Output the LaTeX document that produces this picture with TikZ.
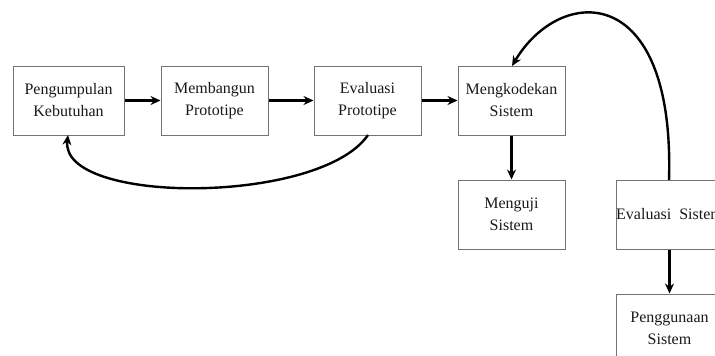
\documentclass[tikz,border=0pt]{standalone}
\usepackage{fontspec}
\setmainfont{Liberation Serif}
\usetikzlibrary{arrows.meta}
\begin{document}
\begin{tikzpicture}[x=1pt,y=-1pt,
  box/.style={draw=black!55,line width=1pt,minimum width=107pt,minimum height=69pt,
    align=center,inner sep=0pt,font=\fontsize{16}{22}\selectfont,text=black!90},
  conn/.style={line width=2.4pt,-{Stealth[length=10pt,width=9pt]}}]
\useasboundingbox (0,0) rectangle (715,356);
\begin{scope}
\clip (0,0) rectangle (715,356);
\node[box,minimum width=111pt] (a) at (68.5,100.5) {Pengumpulan\\Kebutuhan};
\node[box] (b) at (214.5,100.5) {Membangun\\Prototipe};
\node[box] (c) at (367.5,100.5) {Evaluasi\\Prototipe};
\node[box] (d) at (511.5,100.5) {Mengkodekan\\Sistem};
\node[box] (e) at (511.5,214.5) {Menguji\\Sistem};
\node[box] (f) at (669.5,214.5) {Evaluasi\ \ Sistem};
\node[box] (g) at (669.5,328.5) {Penggunaan\\Sistem};
\draw[conn] (a) -- (b);
\draw[conn] (b) -- (c);
\draw[conn] (c) -- (d);
\draw[conn] (d) -- (e);
\draw[conn] (f) -- (g);
\coordinate (c1) at (368,135);
\coordinate (a1) at (68,135);
\draw[conn] (c1) .. controls (320,205) and (60,205) .. (a1);
\coordinate (f1) at (669,180);
\coordinate (d1) at (512,66);
\draw[conn] (f1) .. controls (675,-20) and (560,-15) .. (d1);
\end{scope}
\end{tikzpicture}
\end{document}
